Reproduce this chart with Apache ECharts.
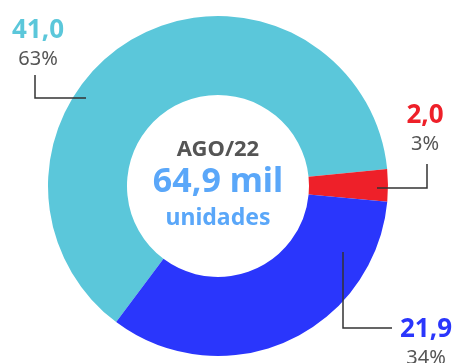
<!DOCTYPE html>
<html><head><meta charset="utf-8">
<script src="https://cdn.jsdelivr.net/npm/echarts@6/dist/echarts.min.js"></script>
<style>html,body{margin:0;padding:0;background:#fff}#c{width:455px;height:363px}</style>
</head><body><div id="c"></div>
<script>
const categories = ['A', 'B', 'C'];
const values = [41.0, 2.0, 21.9];
const colors = ['#5BC7DA', '#EE2029', '#2A36FC'];
const centerTitle = 'AGO/22';
const centerTotal = '64,9 mil';
const centerUnit = 'unidades';

const total = values.reduce((a, b) => a + b, 0);
const FONT = '"Source Sans Pro","Noto Sans",sans-serif';

// label placements (annotation layout)
const labelPlace = [
  { x: 38, y: 16, line: [[86, 98], [35, 98], [35, 75]] },
  { x: 425, y: 101, line: [[377, 188], [427, 188], [427, 164]] },
  { x: 426, y: 315, line: [[343, 252], [343, 328], [392, 328]] }
];

const chart = echarts.init(document.getElementById('c'), null, { renderer: 'canvas' });
chart.setOption({
  animation: false,
  color: colors,
  series: [{
    type: 'pie',
    center: [218, 186],
    radius: [91, 170],
    startAngle: 233.2,
    clockwise: true,
    avoidLabelOverlap: false,
    data: categories.map((n, i) => ({
      name: n, value: values[i],
      label: { rich: { v: { color: colors[i] } } }
    })),
    label: {
      show: true,
      formatter: p => '{v|' + p.value.toFixed(1).replace('.', ',') + '}\n{p|' + Math.round(p.value / total * 100) + '%}',
      rich: {
        v: { fontFamily: FONT, fontWeight: 'bold', fontSize: 26, lineHeight: 30, align: 'center' },
        p: { fontFamily: FONT, fontSize: 20, lineHeight: 26, color: '#555', align: 'center' }
      }
    },
    labelLine: { show: false },
    labelLayout: function (params) {
      const pl = labelPlace[params.dataIndex];
      return { x: pl.x, y: pl.y, align: 'center', verticalAlign: 'top' };
    },
    emphasis: { disabled: true }
  }],
  graphic: labelPlace.map(pl => ({
    type: 'polyline', z: 100,
    shape: { points: pl.line },
    style: { stroke: '#333', lineWidth: 1.5, fill: null }
  })).concat([
    { type: 'text', x: 218, y: 150, style: { text: centerTitle, fill: '#555', font: 'bold 22px ' + FONT, align: 'center', verticalAlign: 'middle' } },
    { type: 'text', x: 218, y: 182, style: { text: centerTotal, fill: '#5AA7F9', font: 'bold 34px ' + FONT, align: 'center', verticalAlign: 'middle' } },
    { type: 'text', x: 218, y: 218, style: { text: centerUnit, fill: '#5AA7F9', font: 'bold 23px ' + FONT, align: 'center', verticalAlign: 'middle' } }
  ])
});
</script></body></html>
